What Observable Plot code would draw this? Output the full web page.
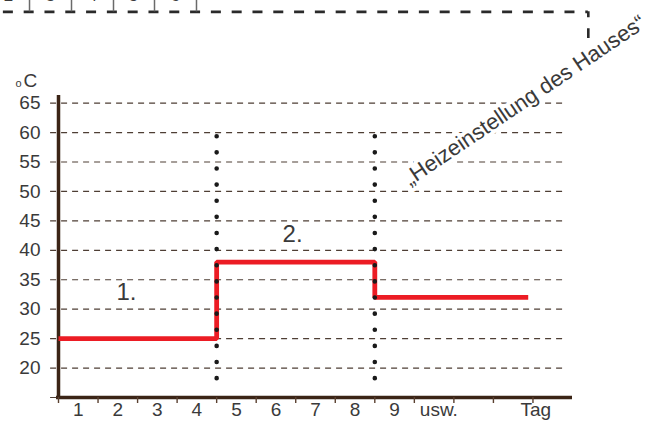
<!DOCTYPE html>
<html>
<head>
<meta charset="utf-8">
<script src="https://cdn.jsdelivr.net/npm/d3@7"></script>
<script src="https://cdn.jsdelivr.net/npm/@observablehq/plot@0.6"></script>
<style>
  html, body { margin: 0; padding: 0; background: #fff; }
  #chart svg { display: block; }
</style>
</head>
<body>
<div id="chart"></div>
<script>
// ---- data ----
const gridValues = [15, 20, 25, 30, 35, 40, 45, 50, 55, 60, 65];
const yTickValues = [20, 25, 30, 35, 40, 45, 50, 55, 60, 65];
const dayTicks = [0, 1, 2, 3, 4, 5, 6, 7, 8, 9, 10, 11, 12];
const dayLabels = ["1", "2", "3", "4", "5", "6", "7", "8", "9", "usw.", "Tag"];
const dayLabelPos = [0.5, 1.5, 2.5, 3.5, 4.5, 5.5, 6.5, 7.5, 8.5, 9.62, 12.07];
const stepDays = [0, 4, 8, 11.88];
const stepTemps = [25, 38, 32, 32];
const dottedDays = [4, 8];
const dottedTop = 59.3;
const dottedBottom = 18.2;
const phaseLabels = ["1.", "2."];
const phaseX = [1.72, 5.92];
const phaseY = [32.9, 42.8];
const noteText = ["\u201EHeizeinstellung des Hauses\u201C"];
const noteX = [11.79];
const noteY = [65.46];
const unitLabels = ["C", "o"];
const unitX = [-0.71, -1.01];
const unitY = [68.86, 68.4];
const unitSize = [19, 11];
// partially cropped element at the very top
const topLineY = 80.51;
const topLineX = [-1.47, 13.40];
const topCornerY = [80.51, 76.0];
const topTickX = [-0.733, 0.329, 1.391, 2.428, 3.49];
const topDigits = ["2", "3", "4", "5", "6"];
const topDigitX = [-1.265, -0.202, 0.86, 1.897, 2.959];
const topDigitY = 83.3;

const font = "'Liberation Sans', Arial, Helvetica, sans-serif";
const axisColor = "#3b2416";
const gridColor = "#4e3e34";
const textColor = "#3a3a3a";
const red = "#ec1c24";

const steps = stepDays.map((d, i) => ({day: d, temp: stepTemps[i]}));

const chart = Plot.plot({
  width: 652,
  height: 427,
  marginLeft: 58,
  marginRight: 80,
  marginTop: 95,
  marginBottom: 30,
  style: {fontFamily: font, color: textColor, background: "#fff", overflow: "visible"},
  x: {domain: [0, 13]},
  y: {domain: [15, 66.3]},
  marks: [
    // dashed grid
    Plot.ruleY(gridValues, {x1: -0.2, x2: 12.85, stroke: gridColor, strokeWidth: 1.2, strokeDasharray: "6,5"}),
    // axes lines
    Plot.ruleX([0], {y1: 15, y2: 66.3, stroke: axisColor, strokeWidth: 3.5}),
    Plot.ruleY([15], {x1: -0.05, x2: 13, stroke: axisColor, strokeWidth: 3.3}),
    Plot.axisY({ticks: yTickValues, tickSize: 0, tickPadding: 18, fontSize: 19, label: null, fill: textColor}),
    Plot.axisX({ticks: dayTicks, tickSize: 6, tickFormat: () => "", label: null, stroke: "#5a4030", strokeWidth: 1.4}),
    Plot.text(dayLabels, {x: (d, i) => dayLabelPos[i], frameAnchor: "bottom", dy: 18, fontSize: 19, fill: textColor}),
    // red step line
    Plot.line(steps, {x: "day", y: "temp", curve: "step-after", stroke: red, strokeWidth: 4.8, strokeLinecap: "butt", strokeLinejoin: "miter"}),
    // dotted vertical lines
    Plot.ruleX(dottedDays, {y1: dottedBottom, y2: dottedTop, stroke: "#1a1a1a", strokeWidth: 4.6, strokeLinecap: "round", strokeDasharray: "0,16.13"}),
    // phase labels
    Plot.text(phaseLabels, {x: (d, i) => phaseX[i], y: (d, i) => phaseY[i], fontSize: 24, fill: textColor}),
    // unit
    Plot.text(unitLabels, {x: (d, i) => unitX[i], y: (d, i) => unitY[i], fontSize: (d, i) => unitSize[i], fill: textColor}),
    // rotated annotation
    Plot.text(noteText, {x: noteX, y: noteY, rotate: -34, fontSize: 22, fill: textColor, stroke: "white", strokeWidth: 8}),
    // cropped element at top
    Plot.ruleY([topLineY], {x1: topLineX[0], x2: topLineX[1], stroke: "#2a2a2a", strokeWidth: 2.6, strokeDasharray: "10,10.8", strokeDashoffset: -3}),
    Plot.ruleX([topLineX[1]], {y1: topCornerY[0], y2: topCornerY[1], stroke: "#2a2a2a", strokeWidth: 2.6, strokeDasharray: "6,11,10"}),
    Plot.ruleX(topTickX, {y1: topLineY, y2: 83.5, stroke: "#6a6a6a", strokeWidth: 1.5}),
    Plot.text(topDigits, {x: (d, i) => topDigitX[i], y: topDigitY, fontSize: 17, fill: textColor})
  ]
});

document.getElementById("chart").appendChild(chart);
</script>
</body>
</html>
